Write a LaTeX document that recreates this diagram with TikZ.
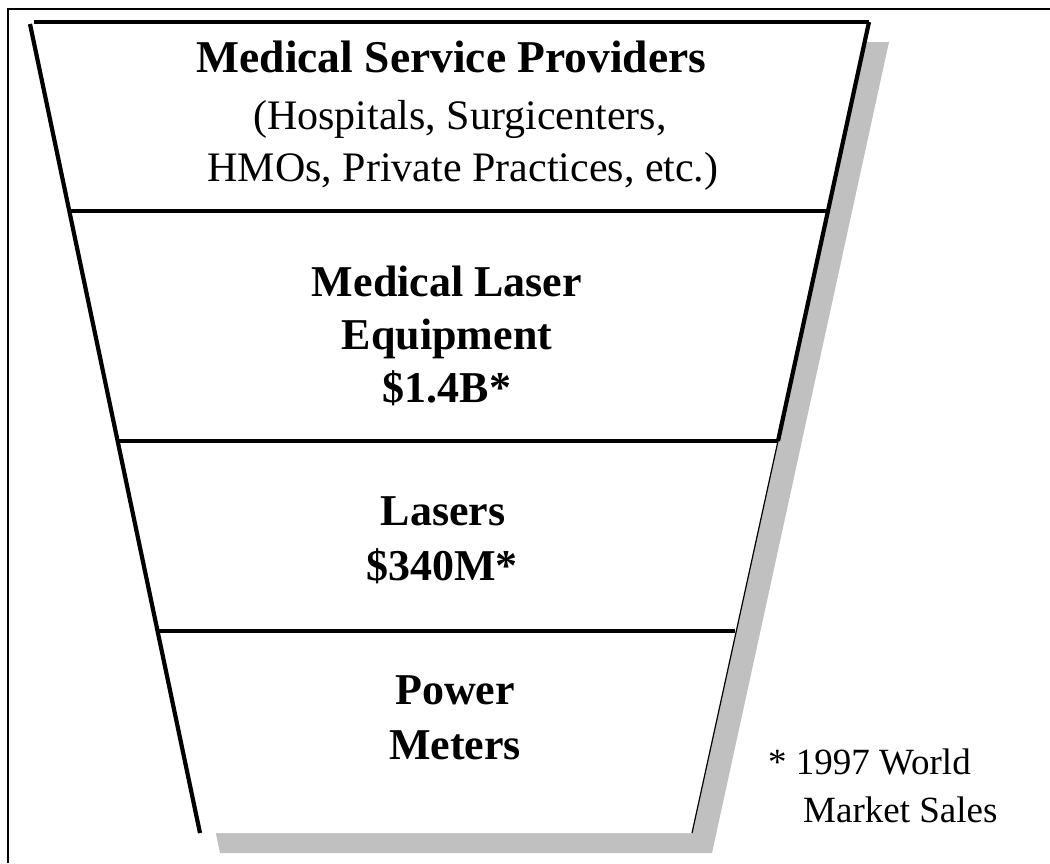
\documentclass[tikz,border=0pt]{standalone}
\usepackage{fontspec}
\setmainfont{Liberation Serif}
\definecolor{shadowgray}{RGB}{192,192,192}
\tikzset{
  funnelline/.style={line width=4.2pt, line cap=butt},
  thinline/.style={line width=1.2pt},
  frameline/.style={line width=2.2pt},
  boldtxt/.style={inner sep=0pt, anchor=base, font=\fontsize{44}{54}\selectfont\bfseries},
  titletxt/.style={inner sep=0pt, anchor=base, font=\fontsize{45.5}{54}\selectfont\bfseries},
  regtxt/.style={inner sep=0pt, anchor=base, font=\fontsize{42}{52}\selectfont},
  notetxt/.style={inner sep=0pt, anchor=base west, font=\fontsize{37}{46}\selectfont},
}
\begin{document}
\begin{tikzpicture}[x=1pt,y=-1pt]
\useasboundingbox (0,0) rectangle (1050,863);
% outer frame (left and top only visible)
\draw[frameline] (8,863) -- (8,9) -- (1050,9);
% funnel corners
\coordinate (tl) at (30,22);
\coordinate (tr) at (869,22);
\coordinate (br) at (692,833);
\coordinate (bl) at (200,833);
% shadow
\fill[shadowgray] ([shift={(20,20)}]tl) -- ([shift={(20,20)}]tr) -- ([shift={(20,20)}]br) -- ([shift={(20,20)}]bl) -- cycle;
% funnel body
\fill[white] (tl) -- (tr) -- (br) -- (bl) -- cycle;
% divider end points
\coordinate (l1) at (69.5,211);  \coordinate (r1) at (827.5,211);
\coordinate (l2) at (117.5,441); \coordinate (r2) at (778,441);
\coordinate (l3) at (157.5,631); \coordinate (r3) at (735,631);
\coordinate (ltop) at (34,22);
\coordinate (lstart) at (30,24);
% outline
\draw[funnelline] (ltop) -- (tr);
\draw[funnelline] (lstart) -- (bl);
\draw[funnelline] (tr) -- (r2);
\draw[thinline] (r2) -- (br);
\draw[funnelline] (l1) -- (r1);
\draw[funnelline] (l2) -- (r2);
\draw[funnelline] (l3) -- (r3);
% texts
\node[titletxt] (msp) at (451.5,72) {Medical Service Providers};
\node[regtxt] (hosp) at (460,129) {(Hospitals, Surgicenters,};
\node[regtxt] (hmo) at (463,181) {HMOs, Private Practices, etc.)};
\node[boldtxt] (mle1) at (447,296) {Medical Laser};
\node[boldtxt] (mle2) at (447,349) {Equipment};
\node[boldtxt] (mle3) at (447,402) {\$1.4B*};
\node[boldtxt] (las1) at (443,525) {Lasers};
\node[boldtxt] (las2) at (442,580) {\$340M*};
\node[boldtxt] (pm1) at (455,704) {Power};
\node[boldtxt] (pm2) at (455,759) {Meters};
\node[notetxt] (note1) at (768,774) {* 1997 World};
\node[notetxt] (note2) at (803,822) {Market Sales};
\end{tikzpicture}
\end{document}
